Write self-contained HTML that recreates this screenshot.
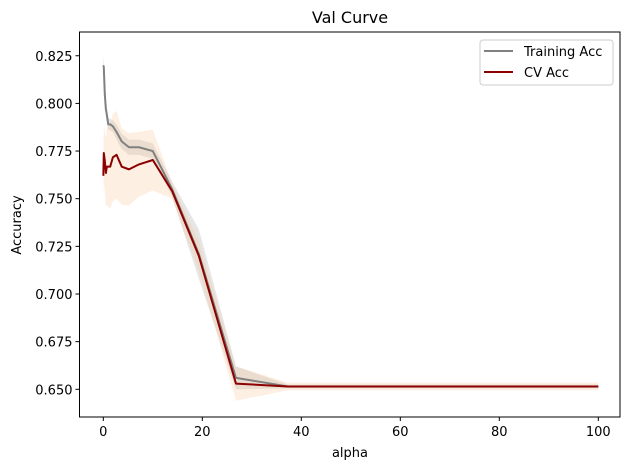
<!DOCTYPE html>
<html><head><meta charset="utf-8"><style>
body{margin:0;background:#fff;font-family:"Liberation Sans","DejaVu Sans",sans-serif}
svg text{font-family:"DejaVu Sans","Liberation Sans",sans-serif}
</style></head><body>
<svg id="chart" width="630" height="470" xmlns="http://www.w3.org/2000/svg">
<rect width="630" height="470" fill="#fff"/>
<text x="350" y="23" font-size="16" text-anchor="middle">Val Curve</text>
<g id="bands"></g><g id="lines"></g><g id="axes"></g>
<text x="350" y="457" font-size="13" text-anchor="middle">alpha</text>
<text transform="translate(21,225) rotate(-90)" font-size="13" text-anchor="middle">Accuracy</text>
<g>
<rect x="480" y="40" width="133" height="45" rx="3" fill="#fff" stroke="#ccc"/>
<line x1="484" y1="51" x2="513" y2="51" stroke="#808080" stroke-width="2"/>
<text x="524" y="56" font-size="13">Training Acc</text>
<line x1="484" y1="72" x2="513" y2="72" stroke="#8b0000" stroke-width="2"/>
<text x="524" y="77" font-size="13">CV Acc</text>
</g>
</svg>
<script>
const alphas=[0.01,0.1,0.3,0.52,0.72,1,1.39,1.93,2.68,3.73,5.18,7.2,10,13.9,19.3,26.8,37.3,51.8,72,100];
const trainMean=[0.820,0.819,0.805,0.797,0.794,0.789,0.789,0.788,0.785,0.780,0.777,0.777,0.775,0.755,0.721,0.656,0.6515,0.6515,0.6515,0.6515];
const trainStd=[0.004,0.004,0.004,0.004,0.004,0.003,0.003,0.003,0.004,0.004,0.004,0.004,0.004,0.004,0.013,0.006,0.001,0.001,0.001,0.001];
const cvMean=[0.762,0.774,0.770,0.7635,0.7668,0.7668,0.7668,0.7717,0.773,0.7668,0.7654,0.768,0.7703,0.754,0.720,0.653,0.6515,0.6515,0.6515,0.6515];
const cvStd=[0.012,0.014,0.016,0.018,0.02,0.021,0.022,0.023,0.023,0.02,0.019,0.017,0.016,0.004,0.008,0.009,0.002,0.002,0.002,0.002];
const xTicks=[0,20,40,60,80,100];
const yTicks=[0.650,0.675,0.700,0.725,0.750,0.775,0.800,0.825];
const L=79.5,R=620,T=32,B=417;
const sx=v=>103.3+v*4.95;
const sy=v=>389.3-(v-0.65)*1906;
const NS="http://www.w3.org/2000/svg";
function mk(p,t,a){const e=document.createElementNS(NS,t);for(const k in a)e.setAttribute(k,a[k]);p.appendChild(e);return e;}
const bands=document.getElementById('bands'),lines=document.getElementById('lines'),axes=document.getElementById('axes');
function band(m,s,fill,op,name){
 let up=alphas.map((a,i)=>sx(a)+','+sy(m[i]+s[i]));
 let dn=alphas.map((a,i)=>sx(a)+','+sy(m[i]-s[i])).reverse();
 const e=mk(bands,'polygon',{points:up.concat(dn).join(' '),fill:fill,'fill-opacity':op});
 
 
}
band(trainMean,trainStd,'#808080',0.2,'training-band');
band(cvMean,cvStd,'#fbbf8f',0.25,'cv-band');
function line(m,c,name){
 const e=mk(lines,'polyline',{points:alphas.map((a,i)=>sx(a)+','+sy(m[i])).join(' '),fill:'none',stroke:c,'stroke-width':2,'stroke-linejoin':'round'});
 
 
}
line(trainMean,'#808080','training-line');
line(cvMean,'#8b0000','cv-line');
const fr=mk(axes,'rect',{x:L,y:T,width:R-L,height:B-T,fill:'none',stroke:'#000','stroke-width':1});


xTicks.forEach(v=>{
 const x=sx(v);
 mk(axes,'line',{x1:x,y1:B,x2:x,y2:B+4,stroke:'#000'});
 const t=mk(axes,'text',{x:x,y:B+19,'font-size':13,'text-anchor':'middle'});t.textContent=v;
 
 
});
yTicks.forEach(v=>{
 const y=sy(v);
 mk(axes,'line',{x1:L-4,y1:y,x2:L,y2:y,stroke:'#000'});
 const t=mk(axes,'text',{x:L-7,y:y+5,'font-size':13,'text-anchor':'end'});t.textContent=v.toFixed(3);
 
 
});
</script>
</body></html>
